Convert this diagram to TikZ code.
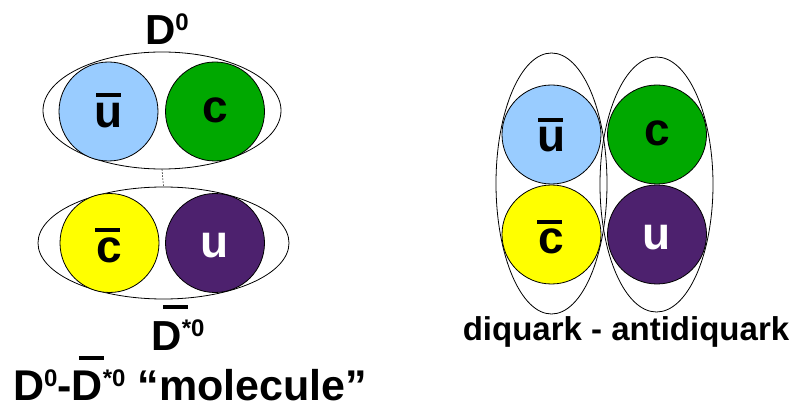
\documentclass[tikz,border=0pt]{standalone}
\usepackage{fontspec}
\setmainfont{Liberation Sans}
\usetikzlibrary{shapes.geometric,calc}

\definecolor{qlightblue}{HTML}{99CCFF}
\definecolor{qgreen}{HTML}{00A800}
\definecolor{qyellow}{HTML}{FFFF00}
\definecolor{qpurple}{HTML}{4D216E}

% #1 raise of the bar, #2 bar width, #3 shift to the right, #4 text under the bar
\newcommand\barred[4]{\setbox0=\hbox{#4}\rlap{\kern#3\hbox to\wd0{\hss\rule[#1]{#2}{4pt}\hss}}\box0}
\newcommand\supr[1]{\raisebox{14pt}{\fontsize{24}{24}\selectfont #1}}

\begin{document}
\begin{tikzpicture}[x=1pt,y=-1pt,
  hadron/.style={draw=black,line width=0.8pt,ellipse,inner sep=0pt},
  quark/.style={draw=black,line width=0.8pt,circle,inner sep=0pt,minimum size=99pt},
  flavour/.style={anchor=base,inner sep=0pt,font=\fontsize{46}{46}\selectfont\bfseries},
  caption/.style={anchor=base,inner sep=0pt,text depth=0pt,font=\bfseries}]
\useasboundingbox (0,0) rectangle (796,409);

% ---- meson molecule ----
\node[hadron,minimum width=238pt,minimum height=117pt] (mesA) at (162,110.5) {};
\node[hadron,minimum width=251pt,minimum height=112pt] (mesB) at (163.5,243) {};
\draw[line width=0.6pt,dash pattern=on 1.5pt off 1.5pt] (mesA.south) -- (mesB.north);

\node[quark,fill=qlightblue] (lub) at (108.5,111.5) {};
\node[quark,fill=qgreen]     (lc)  at (215,111.5) {};
\node[quark,fill=qyellow]    (lcb) at (109.5,243) {};
\node[quark,fill=qpurple]    (lu)  at (215,243) {};

\node[flavour] (lubt) at ($(lub.center)+(0,16)$) {\barred{30pt}{25pt}{0pt}{u}};
\node[flavour] (lct)  at ($(lc.center)+(0,11)$) {c};
\node[flavour] (lcbt) at ($(lcb.center)+(0,19)$) {\barred{30pt}{25pt}{-2pt}{c}};
\node[flavour,text=white] (lut) at ($(lu.center)+(0,15)$) {u};

\node[caption,font=\fontsize{42}{42}\selectfont\bfseries] (dzero) at (167,45) {D\supr{0}};
\node[caption,font=\fontsize{42}{42}\selectfont\bfseries] (dstar) at (178,350) {\barred{41pt}{25pt}{9pt}{D}\supr{*0}};
\node[caption,font=\fontsize{43}{43}\selectfont\bfseries] (molec) at (190,400)
  {D\supr{0}-\barred{40pt}{25pt}{4pt}{D}\supr{*0} “molecule”};

% ---- diquark - antidiquark ----
\node[hadron,minimum width=111pt,minimum height=261pt] (dqA) at (551.5,183.5) {};
\node[hadron,minimum width=113pt,minimum height=255pt] (dqB) at (656.5,184.5) {};

\node[quark,fill=qlightblue] (rub) at (551.5,134.5) {};
\node[quark,fill=qgreen]     (rc)  at (657,134.5) {};
\node[quark,fill=qyellow]    (rcb) at (551.5,234.5) {};
\node[quark,fill=qpurple]    (ru)  at (657,234.5) {};

\node[flavour] (rubt) at ($(rub.center)+(0,17.5)$) {\barred{30pt}{25pt}{-1pt}{u}};
\node[flavour] (rct)  at ($(rc.center)+(0,11.5)$) {c};
\node[flavour] (rcbt) at ($(rcb.center)+(0,19.5)$) {\barred{30pt}{25pt}{-2pt}{c}};
\node[flavour,text=white] (rut) at ($(ru.center)+(0,15.5)$) {u};

\node[caption,font=\fontsize{33}{33}\selectfont\bfseries] (dqlabel) at (626,340) {diquark - antidiquark};
\end{tikzpicture}
\end{document}
